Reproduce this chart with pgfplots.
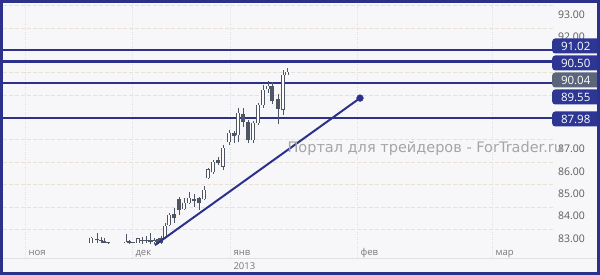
\documentclass[border=0pt]{standalone}
\usepackage{pgfplots}
\usepackage{pgfplotstable}
\pgfplotsset{compat=1.18}
\usepackage{fontspec}
\setmainfont{Open Sans}
\newfontfamily\wmfont{DejaVu Sans}

\definecolor{navy}{RGB}{44,49,140}
\definecolor{boxnavy}{RGB}{46,54,148}
\definecolor{curgrey}{RGB}{92,102,122}
\definecolor{candlec}{RGB}{78,86,102}
\definecolor{bg}{RGB}{247,247,249}
\definecolor{hgrid}{RGB}{232,225,212}
\definecolor{vgrid}{RGB}{222,222,228}
\definecolor{ticktext}{RGB}{90,90,90}
\definecolor{monthtext}{RGB}{120,120,120}
\definecolor{wm}{RGB}{165,165,165}
\definecolor{sep}{RGB}{225,225,228}

% daily candles: position, low, body low, body high, high
\pgfplotstableread{
x   l     bl    bh    h
91  82.39 82.39 82.62 82.66
97  82.39 82.53 82.55 82.84
126 82.39 82.39 82.44 82.80
133 82.40 82.42 82.44 82.44
138 82.39 82.39 82.60 82.62
142 82.37 82.50 82.52 82.66
154 82.35 82.45 82.50 82.62
165 82.57 82.62 83.15 83.29
169 83.15 83.20 83.64 83.73
184 83.87 83.91 84.18 84.40
189 84.14 84.18 84.40 84.67
204 84.31 84.36 84.76 84.94
208 85.25 85.30 85.66 85.75
213 85.48 85.57 86.01 86.10
223 85.66 85.83 86.64 86.77
229 86.77 86.91 87.31 87.44
238 86.91 87.22 88.20 88.43
253 86.86 87.00 87.76 87.85
258 87.67 87.76 88.56 88.65
263 88.43 88.56 89.23 89.46
268 89.10 89.28 89.41 89.63
283 88.11 88.36 89.90 90.13
287 89.88 89.90 90.04 90.22
}\bulls
\pgfplotstableread{
x   l     bl    bh    h
101 82.39 82.51 82.53 82.66
104 82.39 82.42 82.48 82.62
108 82.37 82.40 82.41 82.42
129 82.37 82.39 82.48 82.53
146 82.39 82.51 82.53 82.70
150 82.37 82.44 82.50 82.84
158 82.33 82.40 82.55 82.62
161 82.35 82.39 82.62 82.70
174 83.29 83.51 83.69 83.96
179 83.64 83.87 84.36 84.45
194 84.00 84.27 84.36 84.58
199 83.87 84.18 84.40 84.45
218 85.88 85.97 86.10 86.23
234 86.86 87.18 87.27 87.40
243 87.58 87.80 88.16 88.43
248 86.86 87.00 87.80 87.90
272 88.61 88.74 89.41 89.59
278 87.72 88.40 88.83 89.05
}\bears

% a vertical segment per row, drawn as an error bar with no line and no mark
\pgfplotsset{
  bar/.style={draw=none, mark=none,
    error bars/.cd, y dir=plus, y explicit, error mark=none,
    error bar style={#1}},
}

\begin{document}
\begin{tikzpicture}
\fill[bg] (-3pt,-17pt) rectangle (597pt,258pt);
\begin{axis}[
  at={(0pt,0pt)}, anchor=south west,
  scale only axis, width=550pt, height=255pt,
  xmin=3, xmax=553, ymin=81.722, ymax=93.121,
  axis line style={draw=none}, major tick length=0pt,
  clip=false,
  ytick={83,84,...,93}, yticklabel pos=right,
  yticklabels={83.00,84.00,85.00,86.00,87.00,,,,,92.00,93.00},
  yticklabel style={font=\fontsize{10.5}{12}\selectfont, text=ticktext,
    yshift=-9pt, xshift=1.5pt},
  xtick={25,132,230,357,492},
  xticklabels={ноя,дек,янв,фев,мар},
  xticklabel style={anchor=base west, font=\fontsize{9.5}{11}\selectfont,
    text=monthtext, yshift=2.5pt, xshift=0pt},
  ymajorgrids, xmajorgrids,
  y grid style={hgrid, dash pattern=on 4pt off 2pt, line width=0.9pt},
  x grid style={vgrid, dash pattern=on 1pt off 1.5pt, line width=0.8pt},
]
% price levels
\addplot[navy, line width=2.4pt] coordinates {(3,91.02) (553,91.02)};
\addplot[navy, line width=2.4pt] coordinates {(3,90.50) (553,90.50)};
\addplot[navy, line width=2.4pt] coordinates {(3,89.55) (553,89.55)};
\addplot[navy, line width=2.4pt] coordinates {(3,87.98) (553,87.98)};

% wicks
\addplot[bar={draw=candlec, line width=0.8pt}]
  table[x=x, y=l, y error expr=\thisrow{h}-\thisrow{l}] {\bulls};
\addplot[bar={draw=candlec, line width=0.8pt}]
  table[x=x, y=l, y error expr=\thisrow{h}-\thisrow{l}] {\bears};
% bodies: dark outline, hollow inside for rising days
\addplot[bar={draw=candlec, line width=3.6pt, line cap=butt}]
  table[x=x, y expr=\thisrow{bl}-0.018, y error expr=\thisrow{bh}-\thisrow{bl}+0.036] {\bulls};
\addplot[bar={draw=white, line width=2pt, line cap=butt}]
  table[x=x, y expr=\thisrow{bl}+0.018, y error expr={max(\thisrow{bh}-\thisrow{bl}-0.036,0)}] {\bulls};
\addplot[bar={draw=candlec, line width=3.6pt, line cap=butt}]
  table[x=x, y expr=\thisrow{bl}-0.018, y error expr=\thisrow{bh}-\thisrow{bl}+0.036] {\bears};

% support trend line
\addplot[navy, line width=2pt] coordinates {(155,82.30) (360,88.87)};
\addplot[only marks, mark=*, mark size=3.4pt, navy] coordinates {(360,88.87)};

% watermark
\node[anchor=base west, font=\wmfont\fontsize{14.5}{16}\selectfont, text=wm]
  at (axis cs:284,86.416) {Портал для трейдеров - ForTrader.ru};

\node[anchor=west, font=\fontsize{9.5}{11}\selectfont, text=monthtext, yshift=-8pt]
  at (axis cs:230,81.722) {2013};

% anchors of the price tags on the scale
\coordinate (t1) at (axis cs:552,91.199);
\coordinate (t2) at (axis cs:552,90.439);
\coordinate (t3) at (axis cs:552,89.679);
\coordinate (t4) at (axis cs:552,88.919);
\coordinate (t5) at (axis cs:552,87.936);
\end{axis}

\draw[sep, line width=0.8pt] (-3pt,0pt) -- (597pt,0pt);

\tikzset{tag/.style={anchor=west, fill=#1, rounded corners=3pt, text=white,
  minimum width=48pt, minimum height=15pt, inner sep=0pt,
  font=\fontsize{11.5}{13}\selectfont, text depth=0pt}}
\node[tag=boxnavy] at (t1) {\hspace*{-1pt}91.02};
\node[tag=boxnavy] at (t2) {\hspace*{-1pt}90.50};
\node[tag=curgrey] at (t3) {\hspace*{-1pt}90.04};
\node[tag=boxnavy] at (t4) {\hspace*{-1pt}89.55};
\node[tag=boxnavy] at (t5) {\hspace*{-1pt}87.98};

\draw[navy, line width=3pt] (-1.5pt,-15.5pt) rectangle (595.5pt,256.5pt);
\pgfresetboundingbox
\path[use as bounding box] (-3pt,-17pt) rectangle (597pt,258pt);
\end{tikzpicture}
\end{document}
